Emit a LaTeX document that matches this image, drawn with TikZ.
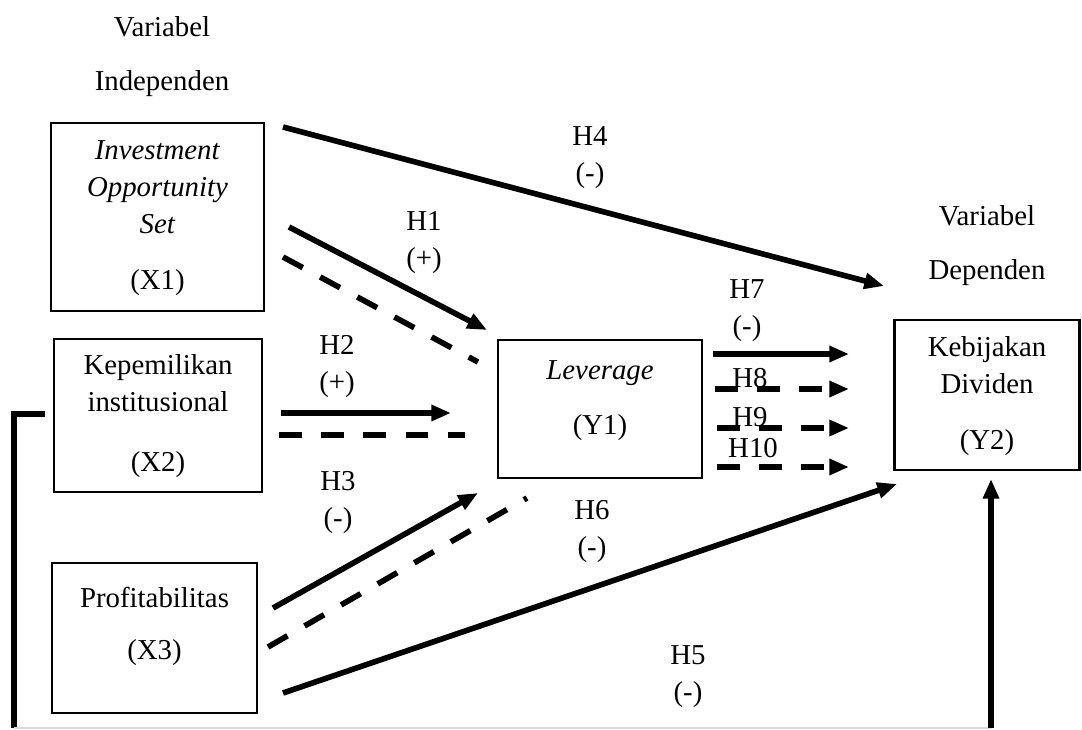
\documentclass[tikz,border=0pt]{standalone}
\usepackage{fontspec}
\setmainfont{Liberation Serif}
\usetikzlibrary{arrows.meta}

\begin{document}
\begin{tikzpicture}[
    x=0.025cm, y=-0.025cm,
    every node/.style = {font=\fontsize{20.5}{26.3}\selectfont},
    box/.style = {rectangle, draw=black, line width=1.8pt, inner sep=0pt},
    boxtext/.style = {align=center, inner sep=0pt},
    hyp/.style = {align=center, inner sep=0pt},
    arrow/.style = {draw=black, line width=4pt, -{Triangle[length=14pt,width=11pt]}},
    dasharrow/.style = {arrow, dash pattern=on 16pt off 14pt},
    dashline/.style = {draw=black, line width=4pt, dash pattern=on 16pt off 14pt}
]
\useasboundingbox (0,0) rectangle (1082,729);

% headings
\node (indep1) at (162,27) {Variabel};
\node (indep2) at (162,84) {Independen};
\node (dep1) at (987,216) {Variabel};
\node (dep2) at (987,273) {Dependen};

% variable boxes
\node (x1) [box, minimum width=5.325cm, minimum height=4.7cm] at (157.5,217) {};
\node (x2) [box, minimum width=5.2cm, minimum height=3.825cm] at (158,415.5) {};
\node (x3) [box, minimum width=5.125cm, minimum height=3.75cm] at (154.5,638) {};
\node (y1) [box, line width=1.4pt, minimum width=5.1cm, minimum height=3.45cm] at (600,409) {};
\node (y2) [box, minimum width=4.625cm, minimum height=3.75cm] at (987,395) {};

\node (x1txt) [boxtext] at (157.5,218) {\textit{Investment}\\\textit{Opportunity}\\\textit{Set}\\[13.5pt](X1)};
\node (x2txt) [boxtext] at (158,416.5) {Kepemilikan\\institusional\\[16.4pt](X2)};
\node (x3txt) [boxtext] at (154.5,626) {Profitabilitas\\[10.7pt](X3)};
\node (y1txt) [boxtext] at (600,400.5) {\textit{Leverage}\\[12.8pt](Y1)};
\node (y2txt) [boxtext] at (987,396.5) {Kebijakan\\Dividen\\[13.5pt](Y2)};

% arrow ends
\coordinate (h4s) at (283,127);   \coordinate (h4e) at (884,286);
\coordinate (h1s) at (289,227);   \coordinate (h1e) at (487,330);
\coordinate (h1ds) at (283,257);  \coordinate (h1de) at (478,362);
\coordinate (h2s) at (281,413);   \coordinate (h2e) at (451,413);
\coordinate (h2ds) at (279,435);  \coordinate (h2de) at (465,435);
\coordinate (h3s) at (273,608);   \coordinate (h3e) at (478,493);
\coordinate (h3ds) at (268,647);  \coordinate (h3de) at (527,498);
\coordinate (h5s) at (283,693);   \coordinate (h5e) at (897,484);
\coordinate (h7s) at (713,354);   \coordinate (h7e) at (849,354);
\coordinate (h8s) at (715,389);   \coordinate (h8e) at (849,389);
\coordinate (h9s) at (717,428);   \coordinate (h9e) at (849,428);
\coordinate (h10s) at (717,467);  \coordinate (h10e) at (849,467);
\coordinate (fbs) at (45,414);
\coordinate (fbl) at (14,728);
\coordinate (fbr) at (991,728);
\coordinate (fbe) at (991,479);

% direct paths
\draw [arrow] (h4s) -- (h4e);
\draw [arrow] (h1s) -- (h1e);
\draw [dashline] (h1ds) -- (h1de);
\draw [arrow] (h2s) -- (h2e);
\draw [dashline] (h2ds) -- (h2de);
\draw [arrow] (h3s) -- (h3e);
\draw [dashline] (h3ds) -- (h3de);
\draw [arrow] (h5s) -- (h5e);
\draw [arrow] (h7s) -- (h7e);
\draw [dasharrow] (h8s) -- (h8e);
\draw [dasharrow] (h9s) -- (h9e);
\draw [dasharrow] (h10s) -- (h10e);

% outer loop to Y2
\draw [draw=black, line width=4pt] (fbs) -| (fbl);
\draw [draw=black!15, line width=0.8pt] (fbl) -- (fbr);
\draw [arrow] (fbr) -- (fbe);

% hypothesis labels
\node (lh1) [hyp] at (424,243) {H1\\(+)};
\node (lh2) [hyp] at (337,367) {H2\\(+)};
\node (lh3) [hyp] at (338,503) {H3\\(-)};
\node (lh4) [hyp] at (590,158) {H4\\(-)};
\node (lh5) [hyp] at (688,677) {H5\\(-)};
\node (lh6) [hyp] at (592,532) {H6\\(-)};
\node (lh7) [hyp] at (747,311) {H7\\(-)};
\node (lh8) [hyp] at (750,378) {H8};
\node (lh9) [hyp] at (750,417) {H9};
\node (lh10) [hyp] at (753,448) {H10};

\end{tikzpicture}
\end{document}
